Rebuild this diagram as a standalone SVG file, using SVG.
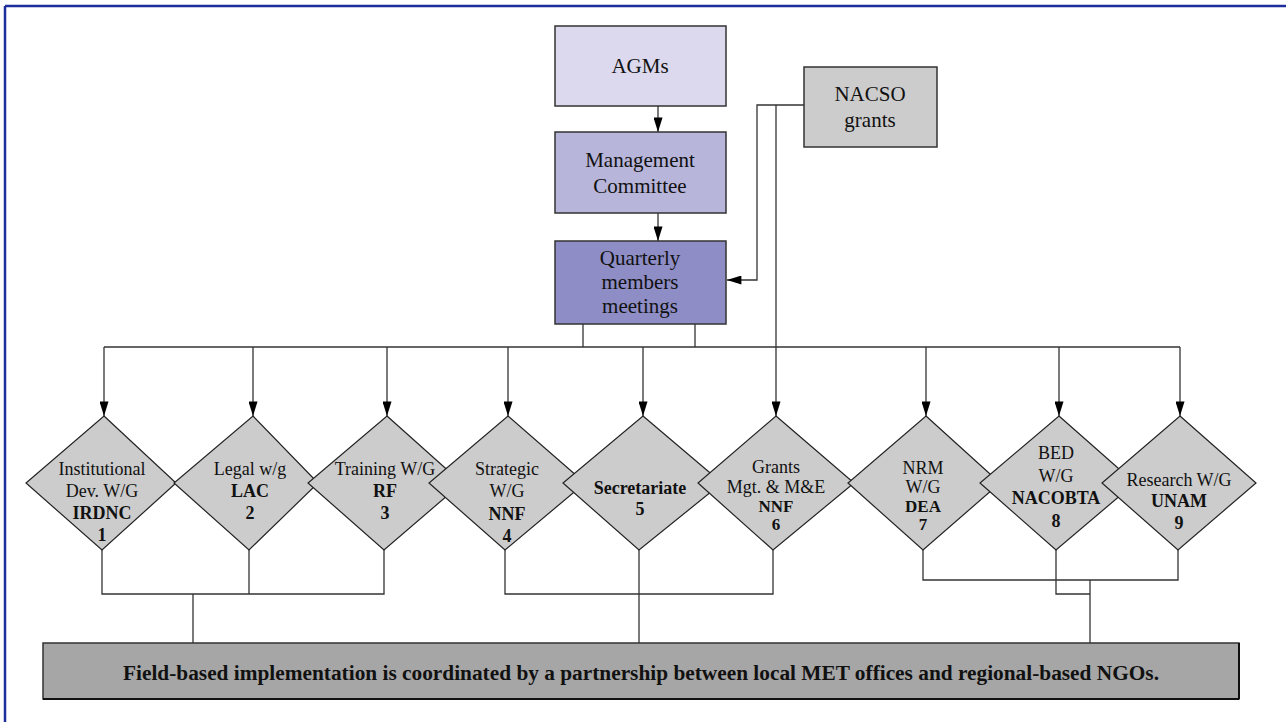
<svg xmlns="http://www.w3.org/2000/svg" width="1286" height="722" viewBox="0 0 1286 722">
<style>
text{font-family:"Liberation Serif","Times New Roman",Times,"Noto Serif","DejaVu Serif",Tinos,FreeSerif,serif}
.t{font-size:18px;fill:#111;text-anchor:middle}
.tb{font-weight:bold}
.big{font-size:21px}
.sm{font-size:17px}
.box{stroke:#333;stroke-width:1.5}
.dia{fill:#cccccc;stroke:#222;stroke-width:1.2}
.ln{fill:none;stroke:#333;stroke-width:1.3}
</style>
<defs>
<marker id="ah" viewBox="0 0 16 10" refX="16" refY="5" markerWidth="16" markerHeight="9" markerUnits="userSpaceOnUse" orient="auto">
<path d="M0,0 L16,5 L0,10 z" fill="#000"/>
</marker>
</defs>
<rect width="1286" height="722" fill="#fff"/>
<g id="frame">
<line x1="5" y1="6" x2="1286" y2="6" stroke="#1c2f9c" stroke-width="2.5"/>
<line x1="5" y1="6" x2="5" y2="722" stroke="#1c2f9c" stroke-width="2.5"/>
</g>
<g id="connectors">
<line class="ln" x1="658" y1="106" x2="658" y2="132" marker-end="url(#ah)"/>
<line class="ln" x1="658" y1="213" x2="658" y2="241" marker-end="url(#ah)"/>
<polyline class="ln" points="804,105 757,105 757,280 727,280" marker-end="url(#ah)"/>
<line class="ln" x1="583" y1="324" x2="583" y2="347"/>
<line class="ln" x1="695" y1="324" x2="695" y2="347"/>
<line class="ln" x1="104" y1="347" x2="1180" y2="347"/>
<line class="ln" x1="104" y1="347" x2="104" y2="416" marker-end="url(#ah)"/>
<line class="ln" x1="253" y1="347" x2="253" y2="416" marker-end="url(#ah)"/>
<line class="ln" x1="387" y1="347" x2="387" y2="416" marker-end="url(#ah)"/>
<line class="ln" x1="508" y1="347" x2="508" y2="416" marker-end="url(#ah)"/>
<line class="ln" x1="643" y1="347" x2="643" y2="416" marker-end="url(#ah)"/>
<line class="ln" x1="776" y1="105" x2="776" y2="416" marker-end="url(#ah)"/>
<line class="ln" x1="926" y1="347" x2="926" y2="416" marker-end="url(#ah)"/>
<line class="ln" x1="1059" y1="347" x2="1059" y2="416" marker-end="url(#ah)"/>
<line class="ln" x1="1180" y1="347" x2="1180" y2="416" marker-end="url(#ah)"/>
<polyline class="ln" points="102,550 102,594 384,594 384,550"/>
<line class="ln" x1="249" y1="550" x2="249" y2="594"/>
<line class="ln" x1="193" y1="594" x2="193" y2="643"/>
<polyline class="ln" points="505,550 505,594 773,594 773,550"/>
<line class="ln" x1="639" y1="550" x2="639" y2="643"/>
<polyline class="ln" points="923,550 923,580 1178,580 1178,550"/>
<polyline class="ln" points="1056,550 1056,594 1090,594"/>
<line class="ln" x1="1090" y1="580" x2="1090" y2="643"/>
</g>
<g id="agms">
<rect class="box" x="555" y="26" width="171" height="80" fill="#dcd9ee"/>
<text class="t big" x="640" y="73">AGMs</text>
</g>
<g id="management">
<rect class="box" x="555" y="132" width="171" height="81" fill="#b7b5da"/>
<text class="t big" x="640" y="167">Management</text>
<text class="t big" x="640" y="193">Committee</text>
</g>
<g id="quarterly">
<rect class="box" x="555" y="241" width="171" height="83" fill="#8e8dc5"/>
<text class="t big" x="640" y="265">Quarterly</text>
<text class="t big" x="640" y="289">members</text>
<text class="t big" x="640" y="313">meetings</text>
</g>
<g id="nacso">
<rect class="box" x="804" y="67" width="133" height="80" fill="#cccccc"/>
<text class="t big" x="870" y="101">NACSO</text>
<text class="t big" x="870" y="127">grants</text>
</g>
<g id="d1">
<polygon class="dia" points="104,416 176,483 102,550 26,483"/>
<text class="t" x="102" y="475">Institutional</text>
<text class="t" x="102" y="497">Dev. W/G</text>
<text class="t tb" x="102" y="519">IRDNC</text>
<text class="t tb" x="102" y="541">1</text>
</g>
<g id="d2">
<polygon class="dia" points="253,416 318,483 249,550 174,483"/>
<text class="t" x="250" y="475">Legal w/g</text>
<text class="t tb" x="250" y="497">LAC</text>
<text class="t tb" x="250" y="519">2</text>
</g>
<g id="d3">
<polygon class="dia" points="387,416 462,483 384,550 308,483"/>
<text class="t" x="385" y="475">Training W/G</text>
<text class="t tb" x="385" y="497">RF</text>
<text class="t tb" x="385" y="519">3</text>
</g>
<g id="d4">
<polygon class="dia" points="508,416 585,483 505,550 429,483"/>
<text class="t" x="507" y="475">Strategic</text>
<text class="t" x="507" y="497">W/G</text>
<text class="t tb" x="507" y="520">NNF</text>
<text class="t tb" x="507" y="542">4</text>
</g>
<g id="d5">
<polygon class="dia" points="643,416 722,483 639,550 563,483"/>
<text class="t tb" x="640" y="494">Secretariate</text>
<text class="t tb" x="640" y="515">5</text>
</g>
<g id="d6">
<polygon class="dia" points="776,416 854,483 773,550 698,483"/>
<text class="t" x="776" y="473">Grants</text>
<text class="t" x="776" y="493">Mgt. &amp; M&amp;E</text>
<text class="t tb sm" x="776" y="512">NNF</text>
<text class="t tb sm" x="776" y="530">6</text>
</g>
<g id="d7">
<polygon class="dia" points="926,416 1000,483 923,550 848,483"/>
<text class="t" x="923" y="474">NRM</text>
<text class="t" x="923" y="493">W/G</text>
<text class="t tb sm" x="923" y="512">DEA</text>
<text class="t tb sm" x="923" y="530">7</text>
</g>
<g id="d8">
<polygon class="dia" points="1059,416 1135,483 1056,550 980,483"/>
<text class="t" x="1056" y="459">BED</text>
<text class="t" x="1056" y="482">W/G</text>
<text class="t tb" x="1056" y="504">NACOBTA</text>
<text class="t tb" x="1056" y="527">8</text>
</g>
<g id="d9">
<polygon class="dia" points="1180,416 1256,483 1178,550 1102,483"/>
<text class="t" x="1179" y="486">Research W/G</text>
<text class="t tb" x="1179" y="507">UNAM</text>
<text class="t tb" x="1179" y="529">9</text>
</g>
<g id="field">
<rect x="43" y="643" width="1196" height="56" fill="#a6a6a6" stroke="#333" stroke-width="1.5"/>
<line x1="43" y1="699" x2="1239" y2="699" stroke="#111" stroke-width="2"/>
<line x1="1239" y1="643" x2="1239" y2="699" stroke="#111" stroke-width="2"/>
<text class="t tb" style="font-size:20px" x="641" y="680" textLength="1036" lengthAdjust="spacingAndGlyphs">Field-based implementation is coordinated by a partnership between local MET offices and regional-based NGOs.</text>
</g>
</svg>
